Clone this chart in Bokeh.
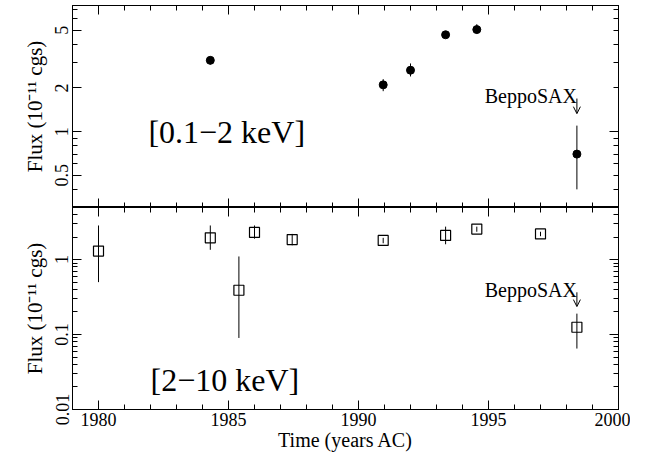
from bokeh.plotting import figure
from bokeh.models import (LinearAxis, LogAxis, FixedTicker, Range1d, Label, Arrow,
                          OpenHead, ColumnDataSource, CustomJSTickFormatter)
from bokeh.layouts import column
from bokeh.embed import file_html
from bokeh.resources import INLINE

# ---------------- data ----------------
soft_year = [1984.3, 1990.95, 1992.0, 1993.35, 1994.55, 1998.4]
soft_flux = [3.1, 2.1, 2.65, 4.65, 5.05, 0.70]
soft_lo = [2.9, 1.9, 2.4, 4.5, 4.75, 0.40]
soft_hi = [3.25, 2.3, 2.95, 4.8, 5.5, 1.10]

hard_year = [1980.0, 1984.3, 1985.4, 1986.0, 1987.45, 1990.95, 1993.35, 1994.55, 1997.0, 1998.4]
hard_flux = [1.3, 1.95, 0.39, 2.3, 1.85, 1.8, 2.1, 2.55, 2.2, 0.125]
hard_lo = [0.5, 1.35, 0.09, 1.9, 1.55, 1.65, 1.6, 2.35, 2.05, 0.065]
hard_hi = [2.85, 2.85, 1.1, 2.85, 2.2, 1.95, 2.75, 2.75, 2.35, 0.19]

x_major = [1980, 1985, 1990, 1995, 2000]
x_minor = list(range(1979, 2001))
soft_labels = [0.5, 1, 2, 5]
soft_minor = [0.3, 0.4, 0.5, 0.6, 0.7, 0.8, 0.9, 2, 3, 4, 5, 6, 7]
hard_major = [0.01, 0.1, 1]
hard_minor = [0.02, 0.03, 0.04, 0.05, 0.06, 0.07, 0.08, 0.09,
              0.2, 0.3, 0.4, 0.5, 0.6, 0.7, 0.8, 0.9, 2, 3, 4, 5]

FONT = "Liberation Serif"
TICK_FS = "18px"
YLABEL = "Flux (10\u207b\u00b9\u00b9 cgs)"


def style_axis(ax, labels=True):
    ax.axis_line_color = "black"
    ax.axis_line_width = 1
    ax.major_tick_in = 9
    ax.major_tick_out = 0
    ax.minor_tick_in = 5
    ax.minor_tick_out = 0
    ax.major_tick_line_color = "black"
    ax.minor_tick_line_color = "black"
    ax.major_label_text_font = FONT
    ax.major_label_text_color = "black"
    ax.axis_label_text_font = FONT
    ax.axis_label_text_font_style = "normal"
    ax.axis_label_text_color = "black"
    ax.axis_label_text_font_size = "20px"
    if labels:
        ax.major_label_text_font_size = TICK_FS
        ax.formatter = CustomJSTickFormatter(code="return String(tick);")
    else:
        ax.major_label_text_font_size = "0px"
        ax.major_label_standoff = 0
        ax.formatter = CustomJSTickFormatter(code="return '';")


def make_fig(y_range, height, top, bottom):
    p = figure(width=630, height=height,
               x_range=Range1d(1979, 2000), y_range=y_range,
               y_axis_type="log", output_backend="svg", toolbar_location=None,
               min_border_left=72, min_border_right=12, min_border_top=top,
               min_border_bottom=bottom, background_fill_color="white",
               border_fill_color="white")
    p.xgrid.visible = False
    p.ygrid.visible = False
    p.outline_line_color = "black"
    p.outline_line_width = 1
    return p


def style_yaxis(ax):
    ax.major_label_orientation = "vertical"
    ax.major_label_standoff = 4
    ax.axis_label = YLABEL
    ax.axis_label_text_font_size = "21px"
    ax.axis_label_standoff = 6


# ---------------- top panel ----------------
p1 = make_fig(Range1d(0.3, 7.4), 207, 5, 0)
xa = p1.xaxis[0]
xa.ticker = FixedTicker(ticks=x_major, minor_ticks=x_minor)
style_axis(xa, labels=False)
ya = p1.yaxis[0]
ya.ticker = FixedTicker(ticks=soft_labels, minor_ticks=soft_minor)
style_axis(ya, labels=True)
style_yaxis(ya)
ra = LogAxis(ticker=FixedTicker(ticks=[1], minor_ticks=soft_minor))
style_axis(ra, labels=False)
p1.add_layout(ra, "right")
ta = LinearAxis(ticker=FixedTicker(ticks=x_major, minor_ticks=x_minor))
style_axis(ta, labels=False)
p1.add_layout(ta, "above")

src1 = ColumnDataSource(dict(x=soft_year, y=soft_flux, lo=soft_lo, hi=soft_hi))
p1.segment(x0="x", y0="lo", x1="x", y1="hi", source=src1, line_color="black", line_width=1)
p1.scatter(x="x", y="y", source=src1, marker="circle", size=8,
           fill_color="black", line_color="black")

p1.add_layout(Label(x=1981.92, y=1.0, text="[0.1\u22122 keV]", text_font=FONT,
                    text_font_size="32px", text_baseline="middle", text_align="left",
                    text_color="black"))
p1.add_layout(Label(x=1998.4, y=1.77, text="BeppoSAX", text_font=FONT,
                    text_font_size="20px", text_baseline="alphabetic", text_align="right",
                    text_color="black"))
p1.add_layout(Arrow(end=OpenHead(size=7, line_width=1, line_color="black"),
                    x_start=1998.4, y_start=1.69, x_end=1998.4, y_end=1.33,
                    line_width=1, line_color="black"))

# ---------------- bottom panel ----------------
p2 = make_fig(Range1d(0.01, 4.95), 249, 0, 47)
xb = p2.xaxis[0]
xb.ticker = FixedTicker(ticks=x_major, minor_ticks=x_minor)
style_axis(xb, labels=True)
xb.major_label_standoff = 3
xb.axis_label = "Time (years AC)"
xb.axis_label_standoff = 0
yb = p2.yaxis[0]
yb.ticker = FixedTicker(ticks=hard_major, minor_ticks=hard_minor)
style_axis(yb, labels=True)
style_yaxis(yb)
rb = LogAxis(ticker=FixedTicker(ticks=hard_major, minor_ticks=hard_minor))
style_axis(rb, labels=False)
p2.add_layout(rb, "right")
tb = LinearAxis(ticker=FixedTicker(ticks=x_major, minor_ticks=x_minor))
style_axis(tb, labels=False)
p2.add_layout(tb, "above")

src2 = ColumnDataSource(dict(x=hard_year, y=hard_flux, lo=hard_lo, hi=hard_hi))
p2.segment(x0="x", y0="lo", x1="x", y1="hi", source=src2, line_color="black", line_width=1)
p2.scatter(x="x", y="y", source=src2, marker="square", size=10,
           fill_color=None, line_color="black", line_width=1.2)

p2.add_layout(Label(x=1982.0, y=0.0244, text="[2\u221210 keV]", text_font=FONT,
                    text_font_size="32px", text_baseline="middle", text_align="left",
                    text_color="black"))
p2.add_layout(Label(x=1998.4, y=0.394, text="BeppoSAX", text_font=FONT,
                    text_font_size="20px", text_baseline="alphabetic", text_align="right",
                    text_color="black"))
p2.add_layout(Arrow(end=OpenHead(size=7, line_width=1, line_color="black"),
                    x_start=1998.4, y_start=0.366, x_end=1998.4, y_end=0.236,
                    line_width=1, line_color="black"))

layout = column(p1, p2, spacing=0)

open("out.html", "w").write(file_html(layout, INLINE))
